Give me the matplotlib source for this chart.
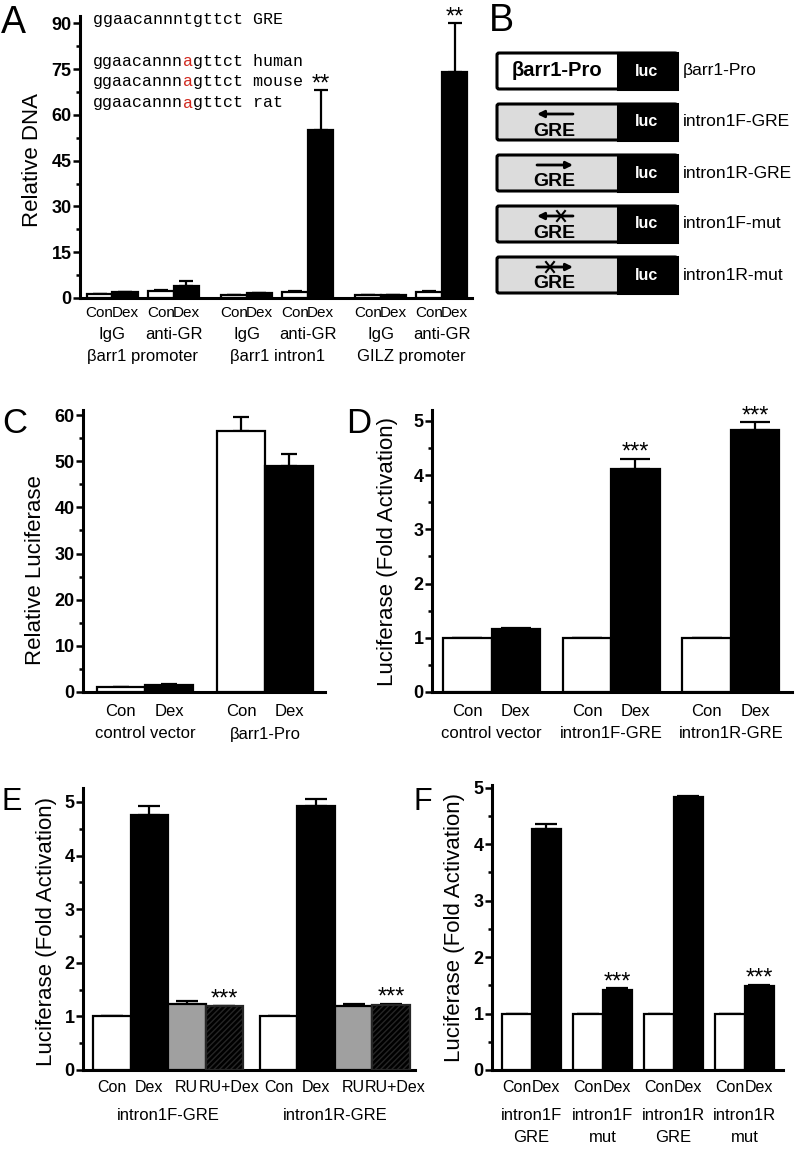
import numpy as np
import matplotlib.pyplot as plt
from matplotlib import transforms
from matplotlib.patches import Rectangle, FancyBboxPatch
from matplotlib.ticker import MultipleLocator

plt.rcParams['font.family'] = ['Liberation Sans', 'DejaVu Sans']

W, H = 796, 1150

# ---- data ----
# A: ChIP, relative DNA
a_groups = ["\u03b2arr1 promoter", "\u03b2arr1 intron1", "GILZ promoter"]
a_pairs = ["IgG", "anti-GR"]
a_conds = ["Con", "Dex"]
a_vals = [1.2, 1.9, 2.4, 4.0, 1.0, 1.5, 2.0, 55.0, 1.0, 1.0, 2.0, 74.0]
a_err = [0.1, 0.2, 0.3, 1.6, 0.1, 0.1, 0.2, 13.0, 0.1, 0.1, 0.2, 16.0]
a_stars = ["", "", "", "", "", "", "", "**", "", "", "", "**"]
a_seqs = ["ggaacannntgttct", "ggaacannnagttct", "ggaacannnagttct", "ggaacannnagttct"]
a_seq_names = ["GRE", "human", "mouse", "rat"]

# B: constructs
b_inserts = ["\u03b2arr1-Pro", "GRE", "GRE", "GRE", "GRE"]
b_names = ["\u03b2arr1-Pro", "intron1F-GRE", "intron1R-GRE", "intron1F-mut", "intron1R-mut"]
b_dir = [0, -1, 1, -1, 1]
b_mut = [False, False, False, True, True]

# C: relative luciferase
c_groups = ["control vector", "\u03b2arr1-Pro"]
c_conds = ["Con", "Dex"]
c_vals = [1.0, 1.6, 56.5, 48.9]
c_err = [0.0, 0.1, 3.0, 2.7]

# D: fold activation
d_groups = ["control vector", "intron1F-GRE", "intron1R-GRE"]
d_conds = ["Con", "Dex"]
d_vals = [1.0, 1.17, 1.0, 4.11, 1.0, 4.83]
d_err = [0.0, 0.01, 0.0, 0.19, 0.0, 0.14]
d_stars = ["", "", "", "***", "", "***"]

# E: RU486
e_groups = ["intron1F-GRE", "intron1R-GRE"]
e_conds = ["Con", "Dex", "RU", "RU+Dex"]
e_vals = [1.0, 4.76, 1.24, 1.19, 1.0, 4.93, 1.19, 1.22]
e_err = [0.0, 0.16, 0.04, 0.01, 0.0, 0.13, 0.04, 0.02]
e_stars = ["", "", "", "***", "", "", "", "***"]

# F: mutants
f_groups = [("intron1F", "GRE"), ("intron1F", "mut"), ("intron1R", "GRE"), ("intron1R", "mut")]
f_conds = ["Con", "Dex"]
f_vals = [1.0, 4.27, 1.0, 1.42, 1.0, 4.83, 1.0, 1.49]
f_err = [0.0, 0.09, 0.0, 0.03, 0.0, 0.02, 0.0, 0.02]
f_stars = ["", "", "", "***", "", "", "", "***"]

fig = plt.figure(figsize=(W / 100, H / 100), dpi=100)


def px_axes(l, t, r, b):
    return fig.add_axes([l / W, 1 - b / H, (r - l) / W, (b - t) / H])


def style(ax, ymax, major, minor, xlim):
    for s in ['top', 'right']:
        ax.spines[s].set_visible(False)
    for s in ['left', 'bottom']:
        ax.spines[s].set_linewidth(2.2)
    ax.set_ylim(0, ymax)
    ax.set_xlim(*xlim)
    ticks = np.arange(0, ymax + 1e-9, major)
    ax.set_yticks(ticks, [f"{t:g}" for t in ticks], fontweight='bold', fontsize=13)
    ax.yaxis.set_minor_locator(MultipleLocator(minor))
    ax.tick_params(axis='y', which='major', direction='out', length=5, width=1.8, pad=1)
    ax.tick_params(axis='y', which='minor', direction='out', length=3, width=1.8)
    ax.set_xticks([])


def xtext(ax, x, ypx, s, size=12, **kw):
    tr = transforms.blended_transform_factory(ax.transData, fig.transFigure)
    ax.text(x, 1 - ypx / H, s, transform=tr, ha='center', va='center', fontsize=size, **kw)


def bars(ax, pos, vals, err, colors, cap, hatches=None):
    hatches = hatches or [None] * len(vals)
    for x, v, c, h in zip(pos, vals, colors, hatches):
        ec = '#262626' if h else 'black'
        ax.bar(x, v, width=1, align='edge', color=c, edgecolor=ec, linewidth=1.6,
               hatch=h, zorder=3)
    cen = np.array(pos) + 0.5
    ax.errorbar(cen, vals, yerr=[np.zeros(len(vals)), err], fmt='none', ecolor='black',
                elinewidth=1.6, capsize=cap, capthick=1.6, zorder=2)
    return cen


def stars(ax, cen, vals, err, marks, size=17):
    for x, v, e, m in zip(cen, vals, err, marks):
        if m:
            ax.text(x, v + e, m, ha='center', va='baseline', fontsize=size)


def letter(x, y, s, size):
    fig.text(x / W, 1 - y / H, s, fontsize=size, ha='left', va='baseline')


def ylabel(x, y, s, size=16):
    fig.text(x / W, 1 - y / H, s, fontsize=size, rotation=90, ha='center', va='center')


# ---- panel A ----
axA = px_axes(80, 15.7, 472, 298)
posA = [g * 5.26 + p * 2.4 + b for g in range(3) for p in range(2) for b in range(2)]
style(axA, 92.5, 15, 7.5, (-0.27, 15.1))
colA = ['white', 'black'] * 6
cenA = bars(axA, posA, a_vals, a_err, colA, 5)
stars(axA, cenA, a_vals, a_err, a_stars)
for i, c in enumerate(cenA):
    xtext(axA, c, 313, a_conds[i % 2], size=11)
for g in range(3):
    for p in range(2):
        xtext(axA, posA[g * 4 + p * 2] + 1, 334, a_pairs[p], size=12)
    xtext(axA, posA[g * 4] + 2.2, 356, a_groups[g], size=12)
ylabel(33, 160, "Relative DNA")
letter(1, 33, "A", 27)

# sequence alignment, monospace: 0.6 em per character
cw = 0.6 * 12
for i, (seq, name) in enumerate(zip(a_seqs, a_seq_names)):
    ypx = [20, 62, 82, 103][i]
    y = (298 - ypx) / (298 - 15.7)
    kw = dict(family='Liberation Mono', fontsize=12, va='center', ha='left')
    if name == "GRE":
        axA.text(13 / 392, y, seq + " " + name, transform=axA.transAxes, **kw)
    else:
        axA.text(13 / 392, y, seq[:9], transform=axA.transAxes, **kw)
        axA.text(13 / 392, y, seq[9],
                 transform=transforms.offset_copy(axA.transAxes, fig, x=9 * cw, units='points'),
                 color='#d0281e', **kw)
        axA.text(13 / 392, y, seq[10:] + " " + name,
                 transform=transforms.offset_copy(axA.transAxes, fig, x=10 * cw, units='points'),
                 **kw)

# ---- panel B ----
axB = px_axes(480, 0, 796, 310)
axB.set_xlim(480, 796)
axB.set_ylim(310, 0)
axB.axis('off')
letter(489, 31, "B", 27)
for i, (ins, name) in enumerate(zip(b_inserts, b_names)):
    top = 53 + i * 51
    fc = 'white' if i == 0 else '#dcdcdc'
    axB.add_patch(FancyBboxPatch((497, top), 180, 36, boxstyle="round,pad=0,rounding_size=2",
                                 facecolor=fc, edgecolor='black', linewidth=2.2))
    axB.add_patch(Rectangle((618, top), 59, 36, facecolor='black', edgecolor='black',
                            linewidth=2.2))
    axB.text(647, top + 18, "luc", color='white', fontsize=11.5, fontweight='bold',
             ha='center', va='center')
    axB.text(683, top + 18, name, fontsize=12.5, ha='left', va='center')
    if b_dir[i] == 0:
        axB.text(557, top + 18, ins, fontsize=14.5, fontweight='bold', ha='center', va='center')
    else:
        axB.text(554, top + 27, ins, fontsize=14, fontweight='bold', ha='center', va='center')
        x0, x1 = (573, 537) if b_dir[i] < 0 else (537, 573)
        axB.annotate("", xy=(x1, top + 10), xytext=(x0, top + 10),
                     arrowprops=dict(arrowstyle='-|>', color='black', lw=2,
                                     mutation_scale=10, shrinkA=0, shrinkB=0))
        if b_mut[i]:
            xc = 561 if b_dir[i] < 0 else 550
            axB.plot([xc - 4, xc + 4], [top + 5, top + 15], color='black', lw=1.5)
            axB.plot([xc - 4, xc + 4], [top + 15, top + 5], color='black', lw=1.5)

# ---- panel C ----
axC = px_axes(83, 410, 325, 692)
posC = [g * 2.5 + b for g in range(2) for b in range(2)]
style(axC, 61.1, 10, 5, (-0.29, 4.75))
cenC = bars(axC, posC, c_vals, c_err, ['white', 'black'] * 2, 6)
for i, c in enumerate(cenC):
    xtext(axC, c, 711, c_conds[i % 2])
for g in range(2):
    xtext(axC, posC[g * 2] + 1, 734, c_groups[g])
ylabel(36, 570, "Relative Luciferase")
letter(2, 433, "C", 25)

# ---- panel D ----
axD = px_axes(432, 410, 792, 692)
posD = [g * 2.47 + b for g in range(3) for b in range(2)]
style(axD, 5.2, 1, 0.5, (-0.23, 7.2))
cenD = bars(axD, posD, d_vals, d_err, ['white', 'black'] * 3, 11)
stars(axD, cenD, d_vals, d_err, d_stars)
for i, c in enumerate(cenD):
    xtext(axD, c, 711, d_conds[i % 2])
for g in range(3):
    xtext(axD, posD[g * 2] + 1, 734, d_groups[g])
ylabel(388, 552, "Luciferase (Fold Activation)")
letter(346, 433, "D", 25)

# ---- panel E ----
axE = px_axes(83, 788, 415, 1070)
posE = [g * 4.45 + b for g in range(2) for b in range(4)]
style(axE, 5.26, 1, 0.5, (-0.27, 8.59))
colE = ['white', 'black', '#a0a0a0', 'black'] * 2
hatE = [None, None, None, '//////'] * 2
cenE = bars(axE, posE, e_vals, e_err, colE, 8, hatE)
stars(axE, cenE, e_vals, e_err, e_stars)
for i, c in enumerate(cenE):
    lab = e_conds[i % 4]
    xtext(axE, c + (0.12 if lab == "RU+Dex" else 0), 1088, lab, size=11.5)
for g in range(2):
    xtext(axE, posE[g * 4] + 2, 1115, e_groups[g])
ylabel(47, 931, "Luciferase (Fold Activation)")
letter(2, 810, "E", 22)

# ---- panel F ----
axF = px_axes(492, 785, 783, 1070)
posF = [g * 2.4 + b for g in range(4) for b in range(2)]
style(axF, 5.05, 1, 0.5, (-0.34, 9.5))
cenF = bars(axF, posF, f_vals, f_err, ['white', 'black'] * 4, 8)
stars(axF, cenF, f_vals, f_err, f_stars)
for i, c in enumerate(cenF):
    xtext(axF, c, 1088, f_conds[i % 2], size=11.5)
for g in range(4):
    xtext(axF, posF[g * 2] + 1, 1115, f_groups[g][0])
    xtext(axF, posF[g * 2] + 1, 1137, f_groups[g][1])
ylabel(455, 927, "Luciferase (Fold Activation)")
letter(414, 810, "F", 22)

fig.savefig("out.png", dpi=100)
